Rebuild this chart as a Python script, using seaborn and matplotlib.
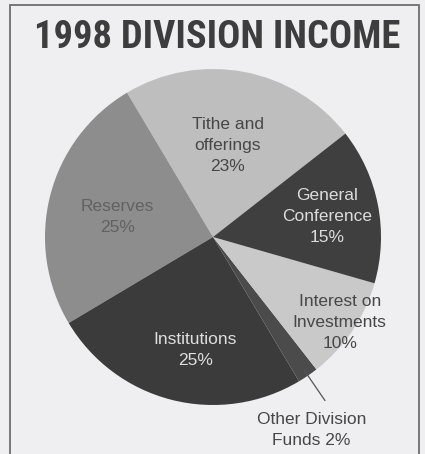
import numpy as np
import matplotlib
matplotlib.use("Agg")
from matplotlib import pyplot as plt
from matplotlib.patches import Rectangle
import seaborn as sns

# 1998 division income, share in percent
labels = ["Tithe and\nofferings", "Reserves", "Institutions",
          "Other Division\nFunds", "Interest on\nInvestments", "General\nConference"]
shares = [23, 25, 25, 2, 10, 15]

sns.set_theme(style="white")
plt.rcParams['font.family'] = ['Liberation Sans', 'DejaVu Sans']

bg = '#efeff1'
grays = ['#bebebe', '#8d8d8d', '#3b3b3b', '#4b4b4b', '#c9c9c9', '#3f3f3f']
txt_colors = ['#474747', '#616161', '#dedede', '#474747', '#474747', '#dcdcdc']
# label placement: fraction of radius and angle shift from the wedge middle
label_r = [0.55, 0.58, 0.68, 1.29, 0.91, 0.69]
label_dth = [1.3, 2.2, 5.2, -7.4, 0, -1.0]

W, H = 425, 454
fig = plt.figure(figsize=(W / 100, H / 100), dpi=100, facecolor=bg)
ax = fig.add_axes([0, 0, 1, 1])
ax.set_facecolor(bg)

cx, cy, R = 213, H - 237, 168
wedges, _ = ax.pie(shares, colors=grays, startangle=38, counterclock=True,
                   center=(cx, cy), radius=R, wedgeprops=dict(linewidth=0))
ax.set_xlim(0, W)
ax.set_ylim(0, H)
ax.set_aspect('equal')
ax.axis('off')

for i, w in enumerate(wedges):
    mid = np.deg2rad((w.theta1 + w.theta2) / 2)
    ang = mid + np.deg2rad(label_dth[i])
    r = label_r[i] * R
    x, y = cx + r * np.cos(ang), cy + r * np.sin(ang)
    if i == 3:
        text = f"{labels[i]} {shares[i]}%"
    else:
        text = f"{labels[i]}\n{shares[i]}%"
    ax.text(x, y, text, ha='center', va='center', fontsize=12.5,
            color=txt_colors[i], linespacing=1.5)
    if i == 3:
        # leader line from the thin slice down to its label
        r0, r1 = 0.96 * R, 1.18 * R
        ax.plot([cx + r0 * np.cos(mid), cx + r1 * np.cos(mid)],
                [cy + r0 * np.sin(mid), cy + r1 * np.sin(mid)],
                color='#555555', lw=0.9)

# frame around the panel
fig.patches.append(Rectangle((10 / W, -0.02), 409 / W, (H - 5) / H + 0.02,
                             transform=fig.transFigure, fill=False,
                             edgecolor='#777777', lw=1.4))

title = fig.text(217 / W, 1 - 37 / H, "1998 DIVISION INCOME", ha='center', va='center',
                 fontsize=29, fontweight='bold', color='#3d3d3d',
                 family=['Liberation Sans Narrow', 'Roboto Condensed',
                         'DejaVu Sans Condensed', 'Open Sans Condensed', 'Liberation Sans'])
# shrink the title to the width it has in the reference (~365 px)
rend = fig.canvas.get_renderer()
wpx = title.get_window_extent(rend).width
if wpx > 365:
    title.set_fontsize(29 * 365 / wpx)

fig.savefig("out.png", dpi=100, facecolor=bg)
